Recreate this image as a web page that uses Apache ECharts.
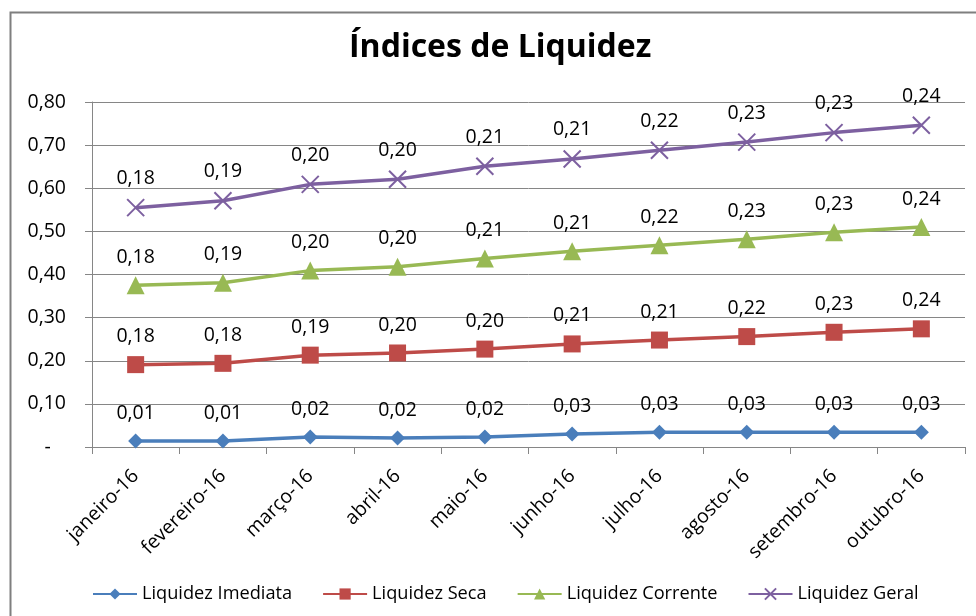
<!DOCTYPE html>
<html>
<head>
<meta charset="utf-8">
<script src="https://cdn.jsdelivr.net/npm/echarts@6/dist/echarts.min.js"></script>
<style>html,body{margin:0;padding:0;background:#fff}#c{width:976px;height:616px}</style>
</head>
<body>
<div id="c"></div>
<script>
const titleText = 'Índices de Liquidez';
const categories = ['janeiro-16','fevereiro-16','março-16','abril-16','maio-16','junho-16','julho-16','agosto-16','setembro-16','outubro-16'];
const seriesNames = ['Liquidez Imediata','Liquidez Seca','Liquidez Corrente','Liquidez Geral'];
const liquidezImediata = [0.014, 0.014, 0.023, 0.021, 0.023, 0.030, 0.034, 0.034, 0.034, 0.034];
const liquidezSeca     = [0.177, 0.180, 0.190, 0.197, 0.204, 0.209, 0.214, 0.222, 0.232, 0.240];
const liquidezCorrente = [0.184, 0.187, 0.196, 0.200, 0.210, 0.215, 0.220, 0.226, 0.232, 0.236];
const liquidezGeral    = [0.180, 0.190, 0.200, 0.203, 0.214, 0.214, 0.220, 0.225, 0.231, 0.236];
const yTicks = [0, 0.1, 0.2, 0.3, 0.4, 0.5, 0.6, 0.7, 0.8];

const FONT = 'Open Sans';
const fmt = v => v.toFixed(2).replace('.', ',');
const colors = ['#4A7EBB', '#BE4B48', '#98B954', '#7D60A0'];
const symbols = ['diamond', 'rect', 'triangle', 'path://M0,0L10,10M10,0L0,10'];
const sizes = [15, 17, 18, 17];
const dataSets = [liquidezImediata, liquidezSeca, liquidezCorrente, liquidezGeral];

const chart = echarts.init(document.getElementById('c'), null, {renderer: 'canvas'});
chart.setOption({
  animation: false,
  backgroundColor: '#fff',
  title: {
    text: titleText, left: 344, top: 27,
    textStyle: {fontFamily: FONT, fontSize: 32, fontWeight: 'bold', color: '#000'}
  },
  graphic: [{
    type: 'rect', left: 8, top: 10, silent: true,
    shape: {width: 1000, height: 700},
    style: {fill: 'none', stroke: '#7f7f7f', lineWidth: 2}
  }],
  grid: {left: 92, right: 11, top: 102, bottom: 169, containLabel: false},
  legend: {
    bottom: 8, left: 87, itemWidth: 44, itemHeight: 14, itemGap: 30,
    textStyle: {fontFamily: FONT, fontSize: 18.2, color: '#000'},
    data: seriesNames
  },
  xAxis: {
    type: 'category', data: categories, boundaryGap: true,
    axisLine: {lineStyle: {color: '#868686', width: 1}},
    axisTick: {show: true, length: 7, lineStyle: {color: '#868686'}},
    axisLabel: {rotate: 45, fontFamily: FONT, fontSize: 19.5, color: '#000', margin: 26, interval: 0}
  },
  yAxis: {
    type: 'value', min: 0, max: 0.8, interval: 0.1,
    axisLine: {show: true, lineStyle: {color: '#868686'}},
    axisTick: {show: true, length: 7, lineStyle: {color: '#868686'}},
    splitLine: {lineStyle: {color: '#868686', width: 1}},
    axisLabel: {
      fontFamily: FONT, fontSize: 19.5, color: '#000', margin: 26,
      formatter: v => (Math.abs(v) < 1e-9 ? '-   ' : fmt(v))
    }
  },
  series: seriesNames.map((name, i) => ({
    name, type: 'line', stack: 'total',
    data: dataSets[i],
    symbol: symbols[i], symbolSize: sizes[i], showAllSymbol: true,
    lineStyle: {color: colors[i], width: 3.5},
    itemStyle: i === 3 ? {color: 'rgba(0,0,0,0)', borderColor: colors[i], borderWidth: 2} : {color: colors[i]},
    label: {
      show: true, position: 'top', distance: 18 - sizes[i] / 2,
      fontFamily: FONT, fontSize: 19.5, color: '#000',
      formatter: p => fmt(p.value)
    },
    emphasis: {disabled: true}
  }))
});
</script>
</body>
</html>
